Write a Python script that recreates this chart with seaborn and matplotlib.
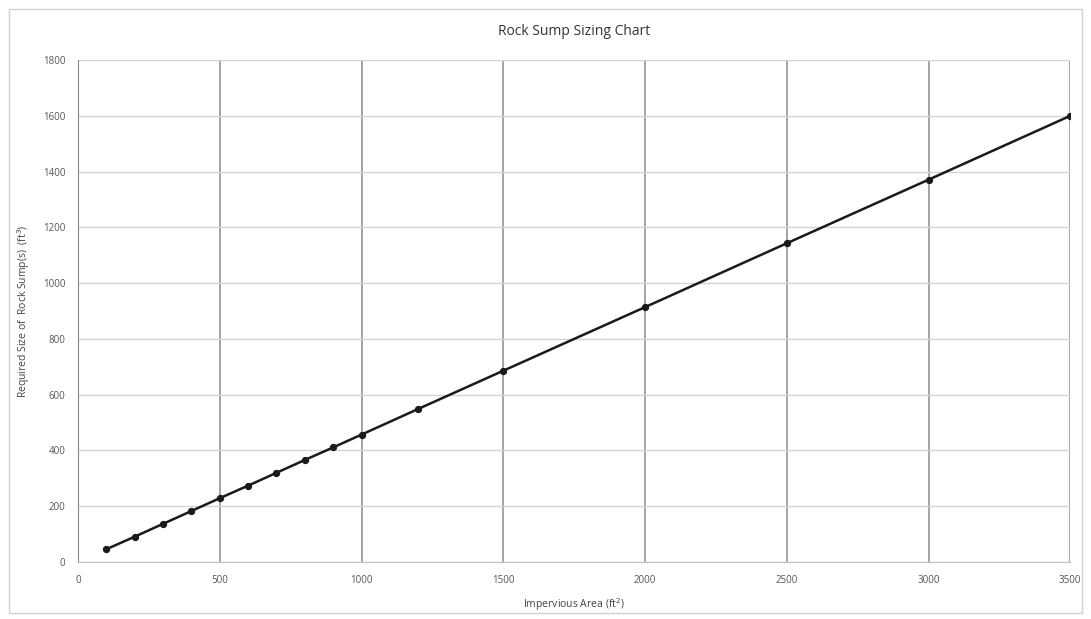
import matplotlib
matplotlib.use('Agg')
import matplotlib.pyplot as plt
import seaborn as sns
import pandas as pd

impervious_area = [100, 200, 300, 400, 500, 600, 700, 800, 900, 1000, 1200, 1500, 2000, 2500, 3000, 3500]
sump_size = [46, 91, 137, 183, 229, 274, 320, 366, 411, 457, 549, 686, 914, 1143, 1371, 1600]
x_ticks = [0, 500, 1000, 1500, 2000, 2500, 3000, 3500]
y_ticks = [0, 200, 400, 600, 800, 1000, 1200, 1400, 1600, 1800]

df = pd.DataFrame({'area': impervious_area, 'size': sump_size})

sns.set_style('white')
plt.rcParams['font.family'] = ['Open Sans', 'DejaVu Sans']

fig = plt.figure(figsize=(10.91, 6.19), dpi=100)
ax = fig.add_axes([0.0715, 0.092, 0.9095, 0.811])

# frame around the chart area
fig.patches.append(plt.Rectangle((0.008, 0.01), 0.984, 0.975, transform=fig.transFigure,
                                 fill=False, edgecolor='#d0d0d0', linewidth=1))

sns.lineplot(data=df, x='area', y='size', ax=ax, color='#1a1a1a', linewidth=1.8,
             marker='o', markersize=4.5, markeredgecolor='#1a1a1a')

ax.set_xlim(0, 3500)
ax.set_ylim(0, 1800)
ax.set_xticks(x_ticks)
ax.set_yticks(y_ticks)
ax.set_xticklabels([str(t) for t in x_ticks], fontsize=7, color='#555555')
ax.set_yticklabels([str(t) for t in y_ticks], fontsize=7, color='#555555')
ax.tick_params(axis='both', length=3, color='#888888', pad=6)

for t in x_ticks:
    ax.axvline(t, color='#8a8a8a', linewidth=1.1, zorder=0)
for t in y_ticks:
    ax.axhline(t, color='#d4d4d4', linewidth=1, zorder=0)

for side in ['top', 'right']:
    ax.spines[side].set_visible(False)
ax.spines['left'].set_color('#8a8a8a')
ax.spines['bottom'].set_color('#c0c0c0')

ax.set_title('Rock Sump Sizing Chart', fontsize=10, color='#333333', pad=18)
ax.set_xlabel('Impervious Area (ft$^2$)', fontsize=7.5, color='#444444', labelpad=8)
ax.set_ylabel('Required Size of  Rock Sump(s)  (ft$^3$)', fontsize=7.5, color='#444444', labelpad=8)

fig.savefig('out.png', dpi=100, facecolor='white')
